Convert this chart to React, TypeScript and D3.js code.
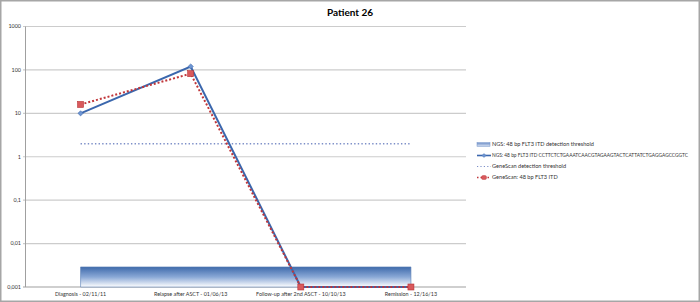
import React from "react";
import * as d3 from "d3";

const categories = ["Diagnosis - 02/11/11", "Relapse after ASCT - 01/06/13", "Follow-up after 2nd ASCT - 10/10/13", "Remission - 12/16/13"];
const ngsValues = [10, 120, 0.001, 0.001];
const geneScanValues = [16, 82, 0.001, 0.001];
const ngsThreshold = [0.0029, 0.0029, 0.0029, 0.0029];
const geneScanThreshold = [2, 2, 2, 2];
const yTicks = [1000, 100, 10, 1, 0.1, 0.01, 0.001];
const yTickLabels = ["1000", "100", "10", "1", "0,1", "0,01", "0,001"];
const legendLabels = [
  "NGS: 48 bp FLT3 ITD detection threshold",
  "NGS: 48 bp FLT3 ITD CCTTCTCTGAAATCAACGTAGAAGTACTCATTATCTGAGGAGCCGGTC",
  "GeneScan detection threshold",
  "GeneScan: 48 bp FLT3 ITD",
];

const W = 700, H = 302;
const left = 25.5, right = 466, top = 26.5, bottom = 287;
const font = "Lato, 'Open Sans', sans-serif";

export default function App() {
  const x = d3.scalePoint<string>().domain(categories).range([left, right]).padding(0.5);
  const y = d3.scaleLog().domain([0.001, 1000]).range([bottom, top]);
  const line = d3.line<number>().x((_, i) => x(categories[i])!).y((d) => y(d));
  const area = d3
    .area<number>()
    .x((_, i) => x(categories[i])!)
    .y0(y(0.001))
    .y1((d) => y(d));

  const legX = 477, legTx = 492;
  const legY = [144.5, 155.5, 166.5, 177.5];

  return (
    <svg width={W} height={H} style={{ position: "absolute", left: 0, top: 0, display: "block" }}>
      <defs>
        <linearGradient id="thr" x1="0" y1="0" x2="0" y2="1">
          <stop offset="0" stopColor="#3f6aab" />
          <stop offset="0.5" stopColor="#8aa8d6" />
          <stop offset="1" stopColor="#ffffff" />
        </linearGradient>
        <linearGradient id="legThr" x1="0" y1="0" x2="0" y2="1">
          <stop offset="0" stopColor="#6f90c8" />
          <stop offset="1" stopColor="#d5e0f2" />
        </linearGradient>
      </defs>
      <rect x={0.75} y={0.75} width={W - 1.5} height={H - 1.5} fill="#fff" stroke="#a6a6a6" strokeWidth={1.5} />
      <text x={350} y={16} textAnchor="middle" fontFamily={font} fontWeight="bold" fontSize={10} fill="#000">
        Patient 26
      </text>
      {yTicks.map((t, i) => (
        <g key={t}>
          <line x1={left - 2.5} x2={right} y1={y(t)} y2={y(t)} stroke={i === 6 ? "#a0a0a0" : "#cccccc"} strokeWidth={1.2} />
          <text x={21} y={y(t) + 1.9} textAnchor="end" fontFamily={font} fontSize={5.4} fill="#333">
            {yTickLabels[i]}
          </text>
        </g>
      ))}
      <line x1={left} x2={left} y1={top} y2={bottom} stroke="#a0a0a0" strokeWidth={1} />
      <path d={area(ngsThreshold)!} fill="url(#thr)" stroke="#5a7fb5" strokeWidth={0.6} />
      <path d={line(geneScanThreshold)!} fill="none" stroke="#7d8fc8" strokeWidth={1.4} strokeDasharray="1.4 2.2" />
      <path d={line(ngsValues)!} fill="none" stroke="#3b67ad" strokeWidth={2} />
      {ngsValues.map((v, i) => {
        const cx = x(categories[i])!, cy = y(v);
        return <path key={i} d={`M${cx},${cy - 2.6}L${cx + 2.6},${cy}L${cx},${cy + 2.6}L${cx - 2.6},${cy}Z`} fill="#6d95d2" stroke="#3b67ad" strokeWidth={0.6} />;
      })}
      <path d={line(geneScanValues)!} fill="none" stroke="#c0363a" strokeWidth={2} strokeDasharray="2 2" />
      {geneScanValues.map((v, i) => {
        const cx = x(categories[i])!, cy = y(v);
        return <rect key={i} x={cx - 3} y={cy - 3} width={6} height={6} fill="#d9595c" stroke="#b83235" strokeWidth={0.6} />;
      })}
      {categories.map((c) => (
        <text key={c} x={x(c)!} y={296} textAnchor="middle" fontFamily={font} fontSize={5.4} fill="#333">
          {c}
        </text>
      ))}
      <rect x={legX} y={legY[0] - 1.8} width={13} height={3.6} fill="url(#legThr)" stroke="#6f90c8" strokeWidth={0.5} />
      <line x1={legX} x2={legX + 14} y1={legY[1]} y2={legY[1]} stroke="#3b67ad" strokeWidth={1.6} />
      <path d={`M${legX + 7},${legY[1] - 2}L${legX + 9},${legY[1]}L${legX + 7},${legY[1] + 2}L${legX + 5},${legY[1]}Z`} fill="#6d95d2" stroke="#3b67ad" strokeWidth={0.4} />
      <line x1={legX} x2={legX + 14} y1={legY[2]} y2={legY[2]} stroke="#7d8fc8" strokeWidth={1.2} strokeDasharray="1.2 2.2" />
      <line x1={legX} x2={legX + 14} y1={legY[3]} y2={legY[3]} stroke="#c0363a" strokeWidth={1.4} strokeDasharray="1.5 2" />
      <rect x={legX + 4.5} y={legY[3] - 2} width={5} height={4} rx={1.5} fill="#d9595c" stroke="#b83235" strokeWidth={0.4} />
      {legendLabels.map((l, i) => (
        <text
          key={l}
          x={legTx}
          y={legY[i] + 1.9}
          fontFamily={font}
          fontSize={i === 1 ? 5.1 : 5.6}
          fill="#333"
          textLength={i === 1 ? 196 : undefined}
          lengthAdjust={i === 1 ? "spacingAndGlyphs" : undefined}
        >
          {l}
        </text>
      ))}
    </svg>
  );
}
